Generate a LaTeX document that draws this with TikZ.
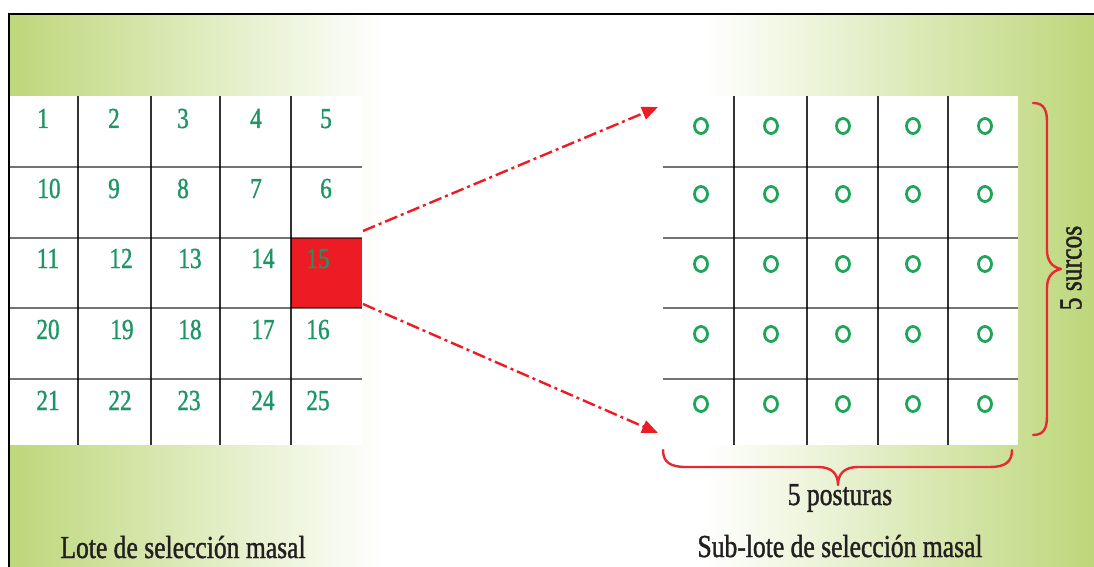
\documentclass[tikz,border=0pt]{standalone}
\usepackage{fontspec}
\setmainfont{Liberation Serif}
\newfontfamily\condserif[FakeStretch=0.8,FakeBold=1.2]{Liberation Serif}
\usetikzlibrary{arrows.meta,shapes.geometric}
\definecolor{leafgreen}{RGB}{189,215,122}
\definecolor{numgreen}{RGB}{28,150,100}
\definecolor{ringgreen}{RGB}{30,165,90}
\definecolor{plotred}{RGB}{237,28,36}
\definecolor{labeltext}{RGB}{35,31,32}
\definecolor{bracered}{RGB}{232,40,50}
\begin{document}
\begin{tikzpicture}[x=1pt,y=-1pt,
  hline/.style={draw=black,draw opacity=0.55,line width=2.8pt},
  vline/.style={draw=black,draw opacity=0.8,line width=2pt},
  num/.style={text=numgreen,font=\condserif\fontsize{29}{29}\selectfont,inner sep=0pt,anchor=base},
  ring/.style={ellipse,draw=ringgreen,line width=2.8pt,minimum width=13pt,minimum height=15pt,inner sep=0pt},
  lbl/.style={text=labeltext,font=\condserif\fontsize{32}{32}\selectfont,inner sep=0pt,anchor=base},
  flow/.style={draw=plotred,line width=2.4pt,dash pattern=on 13pt off 4pt on 3pt off 4pt,-{Triangle[length=16pt,width=13pt]}},
  bracepath/.style={draw=bracered,line width=2.4pt,line cap=round,line join=round}
]
\useasboundingbox (0,0) rectangle (1094,567);
\fill[white] (0,0) rectangle (1094,567);
% backgrounds
\shade[left color=leafgreen,right color=white] (9,14) rectangle (385,567);
\shade[left color=white,right color=leafgreen] (705,14) rectangle (1094,567);
\fill[white] (9,96) rectangle (362,445);
\fill[white] (663,96) rectangle (1018,445);
% frame
\draw[line width=2pt] (9,567) -- (9,14) -- (1094,14);
% red plot
\node[fill=plotred,minimum width=71pt,minimum height=70pt,inner sep=0pt,anchor=north west] (c15) at (291,238) {};
% left grid
\foreach \y in {167,238,308,379} \draw[hline] (9,\y) -- (362,\y);
\foreach \x in {78,151,220,291} \draw[vline] (\x,96) -- (\x,445);
% numbers
\foreach \n/\x/\y in {1/43/128,2/114/128,3/183/128,4/256/128,5/326/128,
  10/49/198,9/114/198,8/183/198,7/256/198,6/326/198,
  11/48/268,12/121/268,13/190/268,14/263/268,15/318/268,
  20/48/339,19/122/339,18/190/339,17/263/339,16/318/339,
  21/48/410,22/120/410,23/189/410,24/263/410,25/318/410}
  \node[num] (n\n) at (\x,\y) {\n};
% right grid
\foreach \y in {167,238,308,379} \draw[hline] (663,\y) -- (1018,\y);
\foreach \x in {734,807,878,948} \draw[vline] (\x,96) -- (\x,445);
\foreach \x [count=\i] in {701,771,843,913,985}
  \foreach \y [count=\j] in {126,194,264,334,404}
    \node[ring] (r\i\j) at (\x,\y) {};
% arrows
\coordinate (s1) at (363,231);
\coordinate (t1) at (658,107);
\coordinate (s2) at (363,304);
\coordinate (t2) at (658,433);
\draw[flow] (s1) -- (t1);
\draw[flow] (s2) -- (t2);
% bottom brace
\draw[bracepath] (663,450) .. controls (663,462) and (670,467) .. (686,467) -- (818,467)
  .. controls (832,467) and (838,474) .. (838,485)
  .. controls (838,474) and (844,467) .. (858,467) -- (990,467)
  .. controls (1005,467) and (1012,462) .. (1012,450);
% right brace
\draw[bracepath] (1033,103) .. controls (1044,103) and (1047,110) .. (1047,122) -- (1047,250)
  .. controls (1047,261) and (1052,267) .. (1061,269)
  .. controls (1052,271) and (1047,277) .. (1047,288) -- (1047,416)
  .. controls (1047,428) and (1044,435) .. (1033,435);
% labels
\node[lbl] (lot) at (183,558) {Lote de selección masal};
\node[lbl] (sub) at (840,557) {Sub-lote de selección masal};
\node[lbl] (post) at (840,505) {5 posturas};
\node[text=labeltext,font=\condserif\fontsize{32}{32}\selectfont,inner sep=0pt,rotate=90] (surc) at (1071,268) {5 surcos};
\end{tikzpicture}
\end{document}
